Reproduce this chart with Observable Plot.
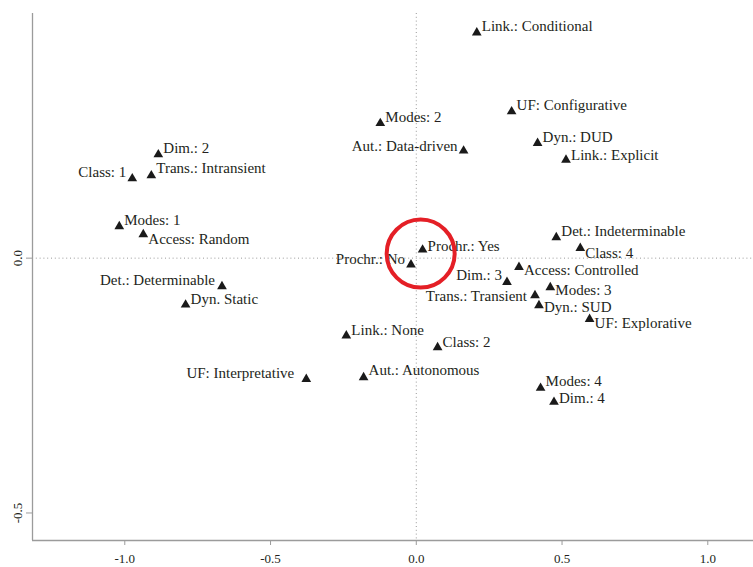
<!DOCTYPE html>
<html>
<head>
<meta charset="utf-8">
<script src="https://cdn.jsdelivr.net/npm/d3@7"></script>
<script src="https://cdn.jsdelivr.net/npm/@observablehq/plot@0.6"></script>
<style>
  body { margin: 0; background: #fff; }
  #chart svg { display: block; font-family: 'Liberation Serif', 'Times New Roman', serif; }
  #chart svg text { font-family: 'Liberation Serif', 'Times New Roman', serif; }
</style>
</head>
<body>
<div id="chart"></div>
<script>
// ---- data ----
const categories = [
  "Link.: Conditional", "UF: Configurative", "Modes: 2", "Aut.: Data-driven",
  "Dyn.: DUD", "Link.: Explicit", "Dim.: 2", "Class: 1", "Trans.: Intransient",
  "Modes: 1", "Access: Random", "Det.: Indeterminable", "Class: 4", "Prochr.: Yes",
  "Prochr.: No", "Access: Controlled", "Dim.: 3", "Modes: 3", "Trans.: Transient",
  "Dyn.: SUD", "UF: Explorative", "Det.: Determinable", "Dyn. Static", "Link.: None",
  "Class: 2", "UF: Interpretative", "Aut.: Autonomous", "Modes: 4", "Dim.: 4"
];
const dim1 = [
  0.2075, 0.327, -0.1235, 0.1623,
  0.4161, 0.5136, -0.885, -0.9743, -0.909,
  -1.0189, -0.9365, 0.4803, 0.5626, 0.0216,
  -0.0182, 0.3523, 0.3111, 0.4597, 0.4072,
  0.4209, 0.5945, -0.6666, -0.7914, -0.2401,
  0.0731, -0.3774, -0.1808, 0.4264, 0.4724
];
const dim2 = [
  0.4425, 0.2876, 0.2647, 0.2106,
  0.2255, 0.1929, 0.2033, 0.1563, 0.1622,
  0.0622, 0.0465, 0.0406, 0.0196, 0.0165,
  -0.0129, -0.0176, -0.0471, -0.0575, -0.0731,
  -0.0927, -0.1196, -0.0555, -0.0914, -0.1522,
  -0.1751, -0.2373, -0.2339, -0.2549, -0.2824
];
const xTicks = [-1.0, -0.5, 0.0, 0.5, 1.0];
const yTicks = [-0.5, 0.0];
const highlightX = [0.015];
const highlightY = [0.009];

// ---- label placement (layout only) ----
const labelDx = [
  5, 5, 5, -6,
  5, 5, 5, -6, 5,
  5, 5, 5, 5, 5,
  -6, 5, -5, 5, -8,
  5, 5, -7, 5, 5,
  5, -12, 5, 5, 5
];
const labelDy = [
  -6, -6, -6, -5,
  -6, -5, -6, -6, -7,
  -6, 5, -6, 5, -4,
  -6, 3, -7, 3, 1,
  2, 4, -6, -6, -6,
  -5, -6, -7, -7, -4
];

const xDomain = [-1.3166, 1.1568];
const yDomain = [-0.554, 0.48];

const points = categories.map((c, i) => ({label: c, x: dim1[i], y: dim2[i]}));
const highlight = highlightX.map((x, i) => ({x, y: highlightY[i]}));

const fmt = d => d.toFixed(1);
const font = "'Liberation Serif', 'Times New Roman', serif";
const ink = "#231f20";
const axisGray = "#9b9b9b";

const labelMarks = points.map((d, i) => Plot.text([d], {
  x: "x", y: "y", text: "label",
  textAnchor: labelDx[i] < 0 ? "end" : "start",
  dx: labelDx[i], dy: labelDy[i],
  fontSize: 15, fontFamily: font, fill: ink
}));

const chart = Plot.plot({
  width: 753,
  height: 567,
  marginLeft: 32,
  marginRight: 0,
  marginTop: 13,
  marginBottom: 27,
  style: {fontFamily: font, background: "#fff", color: ink},
  x: {domain: xDomain},
  y: {domain: yDomain},
  marks: [
    Plot.ruleX([0], {stroke: "#999", strokeDasharray: "1,2.8", strokeWidth: 1}),
    Plot.ruleY([0], {stroke: "#999", strokeDasharray: "1,2.8", strokeWidth: 1}),
    Plot.ruleX([xDomain[0]], {stroke: axisGray, strokeWidth: 1.3}),
    Plot.ruleY([yDomain[0]], {stroke: axisGray, strokeWidth: 1.3}),
    Plot.axisX({ticks: xTicks, tickFormat: fmt, tickSize: 5, tickPadding: 8, fontSize: 13, fontFamily: font, stroke: axisGray, fill: ink, label: null}),
    Plot.axisY({ticks: yTicks, tickFormat: fmt, tickSize: 6, tickPadding: 5, tickRotate: -90, fontSize: 13, fontFamily: font, stroke: axisGray, fill: ink, label: null}),
    Plot.dot(points, {x: "x", y: "y", symbol: "triangle", r: 3.6, fill: "#1a1a1a", stroke: "none"}),
    ...labelMarks,
    Plot.dot(highlight, {x: "x", y: "y", r: 34, fill: "none", stroke: "#e41f26", strokeWidth: 4})
  ]
});
document.getElementById("chart").append(chart);
</script>
</body>
</html>
